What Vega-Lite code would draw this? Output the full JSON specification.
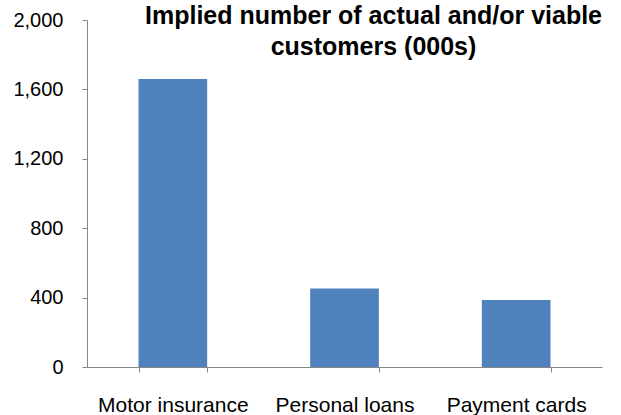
{
  "$schema": "https://vega.github.io/schema/vega-lite/v6.json",
  "autosize": "none",
  "width": 515,
  "height": 347,
  "padding": {"left": 87, "top": 20, "right": 19, "bottom": 48},
  "background": "white",
  "title": {
    "text": ["Implied number of actual and/or viable", "customers (000s)"],
    "font": "Liberation Sans",
    "fontSize": 25,
    "fontWeight": "bold",
    "color": "black",
    "lineHeight": 31,
    "anchor": "middle",
    "frame": "group",
    "baseline": "top",
    "dx": 29,
    "dy": 30,
    "offset": -20
  },
  "data": {
    "values": [
      {"category": "Motor insurance", "customers": 1660},
      {"category": "Personal loans", "customers": 453},
      {"category": "Payment cards", "customers": 386}
    ]
  },
  "mark": {"type": "bar", "color": "#4F81BD"},
  "encoding": {
    "x": {
      "field": "category",
      "type": "nominal",
      "sort": null,
      "scale": {"paddingInner": 0.6, "paddingOuter": 0.3},
      "axis": {
        "title": null,
        "labelAngle": 0,
        "labelFont": "Liberation Sans",
        "labelFontSize": 21,
        "labelColor": "black",
        "labelPadding": 22,
        "tickBand": "extent",
        "tickSize": 5,
        "tickColor": "#868686",
        "domainColor": "#868686",
        "grid": false
      }
    },
    "y": {
      "field": "customers",
      "type": "quantitative",
      "scale": {"domain": [0, 2000], "nice": false},
      "axis": {
        "title": null,
        "values": [0, 400, 800, 1200, 1600, 2000],
        "format": ",.0f",
        "labelFont": "Liberation Sans",
        "labelFontSize": 20,
        "labelColor": "black",
        "labelPadding": 19,
        "tickSize": 5,
        "tickColor": "#868686",
        "domainColor": "#868686",
        "grid": false
      }
    }
  },
  "config": {"view": {"stroke": null}}
}
